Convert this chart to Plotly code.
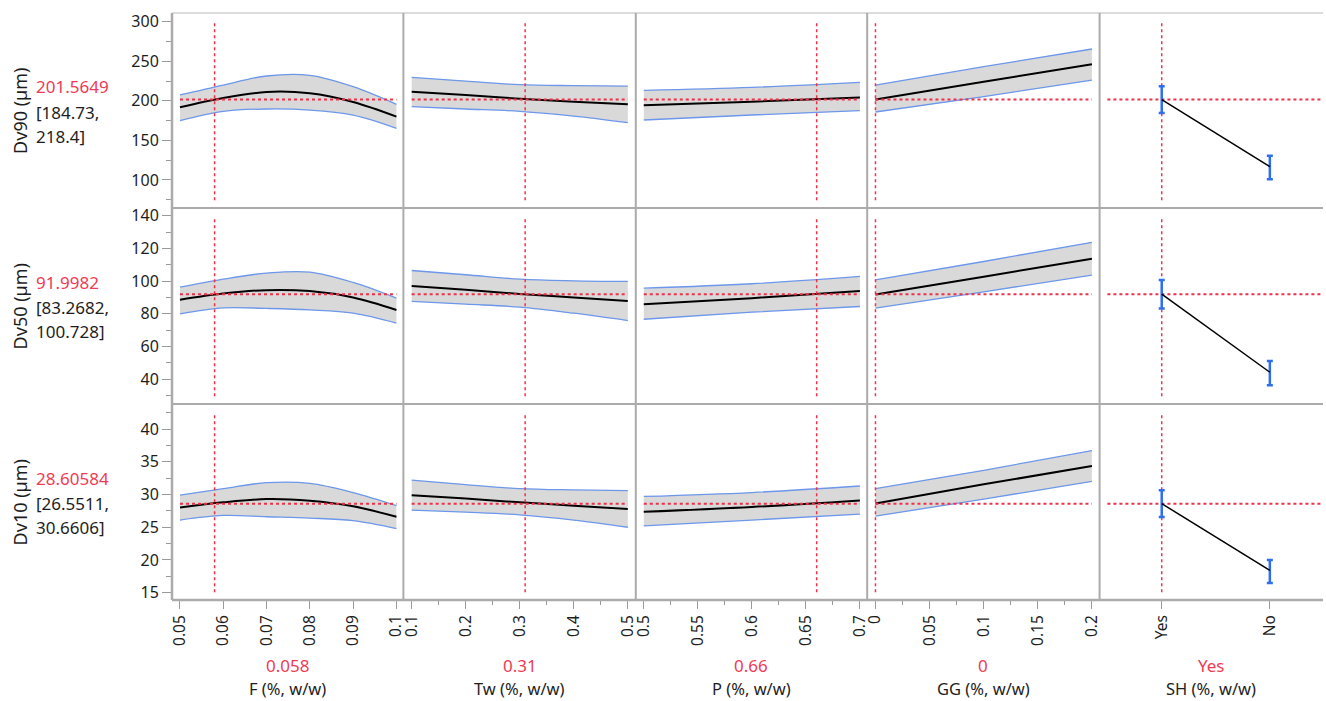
import plotly.graph_objects as go
from plotly.subplots import make_subplots

# ---------------- data ----------------
responses = ["Dv90 (µm)", "Dv50 (µm)", "Dv10 (µm)"]
resp_value_text = ["201.5649", "91.9982", "28.60584"]
resp_ci_line1 = ["[184.73,", "[83.2682,", "[26.5511,"]
resp_ci_line2 = ["218.4]", "100.728]", "30.6606]"]
resp_current = [201.5649, 91.9982, 28.60584]

factors = ["F (%, w/w)", "Tw (%, w/w)", "P (%, w/w)", "GG (%, w/w)", "SH (%, w/w)"]
factor_current_text = ["0.058", "0.31", "0.66", "0", "Yes"]
factor_current = [0.058, 0.31, 0.66, 0.0, 0]

# F profile (rows: Dv90, Dv50, Dv10)
F_x = [0.05, 0.06, 0.07, 0.08, 0.09, 0.1]
F_pred = [[191.8, 203.6, 211.2, 209.5, 198.5, 180.0],
          [88.6, 92.4, 94.5, 93.9, 90.0, 82.4],
          [28.0, 28.8, 29.3, 29.05, 28.2, 26.6]]
F_upper = [[207.4, 220.0, 231.4, 232.2, 217.9, 195.6],
           [96.3, 101.2, 104.9, 105.5, 99.2, 89.6],
           [29.9, 30.9, 31.8, 31.7, 30.3, 28.3]]
F_lower = [[175.0, 186.7, 189.7, 188.4, 182.0, 165.3],
           [80.0, 83.7, 83.3, 82.4, 80.4, 74.3],
           [26.1, 26.8, 26.6, 26.4, 26.0, 24.8]]

# Tw profile
Tw_x = [0.1, 0.2, 0.3, 0.4, 0.5]
Tw_pred = [[211.6, 207.4, 202.7, 198.9, 195.6],
           [97.1, 94.7, 92.2, 90.0, 87.8],
           [29.9, 29.4, 28.8, 28.3, 27.8]]
Tw_upper = [[229.7, 225.0, 220.4, 219.2, 218.7],
            [106.5, 103.9, 101.2, 100.2, 99.8],
            [32.2, 31.5, 30.9, 30.7, 30.6]]
Tw_lower = [[192.6, 189.7, 186.7, 180.8, 172.4],
            [87.6, 85.9, 84.1, 80.4, 75.9],
            [27.6, 27.3, 26.9, 26.1, 25.0]]

# P profile
P_x = [0.5, 0.6, 0.7]
P_pred = [[194.5, 199.0, 204.2],
          [85.9, 89.6, 93.9],
          [27.35, 28.1, 29.1]]
P_upper = [[213.3, 217.0, 223.4],
           [95.7, 98.4, 102.9],
           [29.7, 30.3, 31.3]]
P_lower = [[175.8, 182.1, 187.6],
           [76.7, 81.0, 84.5],
           [25.2, 26.1, 27.0]]

# GG profile
GG_x = [0.0, 0.1, 0.2]
GG_pred = [[201.56, 224.2, 246.1],
           [91.8, 102.7, 113.7],
           [28.61, 31.55, 34.35]]
GG_upper = [[220.0, 243.2, 265.5],
            [100.8, 112.0, 123.7],
            [30.9, 33.7, 36.7]]
GG_lower = [[185.9, 205.3, 226.3],
            [83.5, 93.5, 103.7],
            [26.7, 29.3, 32.0]]

# SH (categorical)
SH_levels = ["Yes", "No"]
SH_pred = [[201.5649, 116.8], [91.9982, 44.3], [28.60584, 18.4]]
SH_upper = [[218.4, 130.7], [100.728, 51.2], [30.6606, 20.0]]
SH_lower = [[184.73, 100.8], [83.2682, 36.3], [26.5511, 16.5]]

# axis ticks
y_tickvals = [[100, 150, 200, 250, 300],
              [40, 60, 80, 100, 120, 140],
              [15, 20, 25, 30, 35, 40]]
y_minor_dtick = [25, 10, 2.5]
y_ranges = [[64.6, 311.0], [24.9, 144.7], [13.89, 43.82]]

x_tickvals = [[0.05, 0.06, 0.07, 0.08, 0.09, 0.1],
              [0.1, 0.2, 0.3, 0.4, 0.5],
              [0.5, 0.55, 0.6, 0.65, 0.7],
              [0.0, 0.05, 0.1, 0.15, 0.2],
              [0, 1]]
x_ticktext = [["0.05", "0.06", "0.07", "0.08", "0.09", "0.1"],
              ["0.1", "0.2", "0.3", "0.4", "0.5"],
              ["0.5", "0.55", "0.6", "0.65", "0.7"],
              ["0", "0.05", "0.1", "0.15", "0.2"],
              SH_levels]
x_minor_dtick = [None, 0.05, 0.025, 0.025, None]
x_ranges = [[0.04816, 0.10161], [0.08468, 0.51477], [0.49262, 0.70674],
            [-0.00765, 0.2071], [-0.5747, 1.4917]]

# ---------------- styling ----------------
W, H = 1326, 701
ML, MR, MT, MB = 172, 0, 13, 101
PW, PH = W - ML - MR, H - MT - MB
col_w = [232, 233, 232, 233, 224]
row_h = [195, 196, 196]
FONT = "Noto Sans, Open Sans, DejaVu Sans, sans-serif"
RED = "#EE3048"
REDTXT = "#EF3B54"
BLUE = "#6C97EA"
EBLUE = "#2E6EF0"
BAND = "#D9D9D9"
SEP = "#ABABAB"
TICKC = "#9A9A9A"
TXT = "#1E1E1E"


def px_x(px):
    return (px - ML) / PW


def px_y(py):
    return (H - MB - py) / PH


fig = make_subplots(rows=3, cols=5, horizontal_spacing=0, vertical_spacing=0,
                    column_widths=col_w, row_heights=row_h)

profiles = [(F_x, F_pred, F_upper, F_lower),
            (Tw_x, Tw_pred, Tw_upper, Tw_lower),
            (P_x, P_pred, P_upper, P_lower),
            (GG_x, GG_pred, GG_upper, GG_lower)]

shapes = []
for r in range(3):
    for c in range(5):
        idx = r * 5 + c + 1
        xa = "x" if idx == 1 else f"x{idx}"
        ya = "y" if idx == 1 else f"y{idx}"
        if c < 4:
            xs, pr, up, lo = profiles[c]
            fig.add_trace(go.Scatter(x=xs, y=up[r], mode="lines",
                                     line=dict(color=BLUE, width=1.3, shape="spline"),
                                     showlegend=False, hoverinfo="skip"), row=r + 1, col=c + 1)
            fig.add_trace(go.Scatter(x=xs, y=lo[r], mode="lines", fill="tonexty",
                                     fillcolor=BAND,
                                     line=dict(color=BLUE, width=1.3, shape="spline"),
                                     showlegend=False, hoverinfo="skip"), row=r + 1, col=c + 1)
            fig.add_trace(go.Scatter(x=xs, y=pr[r], mode="lines",
                                     line=dict(color="black", width=2, shape="spline"),
                                     showlegend=False), row=r + 1, col=c + 1)
            shapes.append(dict(type="line", xref=xa, yref=ya, x0=min(xs), x1=max(xs),
                               y0=resp_current[r], y1=resp_current[r], layer="above",
                               line=dict(color=RED, width=2, dash="3px,3px")))
            shapes.append(dict(type="line", xref=xa, yref=f"{ya} domain",
                               x0=factor_current[c], x1=factor_current[c], y0=0.04, y1=0.95,
                               layer="above", line=dict(color=RED, width=1.5, dash="3px,3px")))
        else:
            up = SH_upper[r]
            lo = SH_lower[r]
            pr = SH_pred[r]
            fig.add_trace(go.Scatter(x=[0, 1], y=pr, mode="lines",
                                     line=dict(color="black", width=1.5),
                                     error_y=dict(type="data", symmetric=False,
                                                  array=[u - p for u, p in zip(up, pr)],
                                                  arrayminus=[p - l for p, l in zip(pr, lo)],
                                                  color=EBLUE, thickness=2.5, width=3),
                                     showlegend=False), row=r + 1, col=c + 1)
            shapes.append(dict(type="line", xref=f"{xa} domain", yref=ya, x0=0.035, x1=1,
                               y0=resp_current[r], y1=resp_current[r], layer="below",
                               line=dict(color=RED, width=2, dash="3px,3px")))
            shapes.append(dict(type="line", xref=xa, yref=f"{ya} domain",
                               x0=factor_current[c], x1=factor_current[c], y0=0.04, y1=0.95,
                               layer="below", line=dict(color=RED, width=1.5, dash="3px,3px")))

        # axes
        xkw = dict(range=x_ranges[c], showgrid=False, zeroline=False, showline=False,
                   tickvals=x_tickvals[c], ticktext=x_ticktext[c], tickangle=-90,
                   showticklabels=(r == 2), ticks=("outside" if r == 2 else ""),
                   ticklen=8, tickwidth=1, tickcolor=TICKC,
                   tickfont=dict(family=FONT, size=15.5, color=TXT), fixedrange=True)
        if r == 2 and x_minor_dtick[c] is not None:
            xkw["minor"] = dict(ticks="outside", ticklen=4, tickcolor=TICKC,
                                tickmode="linear", tick0=0, dtick=x_minor_dtick[c])
        fig.update_xaxes(row=r + 1, col=c + 1, **xkw)
        ykw = dict(range=y_ranges[r], showgrid=False, zeroline=False, showline=False,
                   tickvals=y_tickvals[r], showticklabels=(c == 0),
                   ticks=("outside" if c == 0 else ""), ticklen=9, tickwidth=1,
                   tickcolor=TICKC, tickfont=dict(family=FONT, size=16, color=TXT),
                   fixedrange=True)
        if c == 0:
            ykw["minor"] = dict(ticks="outside", ticklen=5, tickcolor=TICKC,
                                tickmode="linear", tick0=0, dtick=y_minor_dtick[r])
        fig.update_yaxes(row=r + 1, col=c + 1, **ykw)

# frame / separators
shapes.append(dict(type="line", xref="paper", yref="paper", x0=0, x1=1, y0=1, y1=1,
                   line=dict(color="#D0D0D0", width=1.5)))
shapes.append(dict(type="line", xref="paper", yref="paper", x0=0, x1=0, y0=0, y1=1,
                   line=dict(color=SEP, width=2.5)))
shapes.append(dict(type="line", xref="paper", yref="paper", x0=0, x1=1, y0=0, y1=0,
                   line=dict(color=SEP, width=2.5)))
acc = ML
for w in col_w[:-1]:
    acc += w
    shapes.append(dict(type="line", xref="paper", yref="paper", x0=px_x(acc), x1=px_x(acc),
                       y0=0, y1=1, line=dict(color=SEP, width=2)))
acc = MT
for h in row_h[:-1]:
    acc += h
    shapes.append(dict(type="line", xref="paper", yref="paper", x0=0, x1=1,
                       y0=px_y(acc), y1=px_y(acc), line=dict(color=SEP, width=2)))

annotations = []
# response labels
acc = MT
for r in range(3):
    cy = acc + row_h[r] / 2
    acc += row_h[r]
    annotations.append(dict(text=responses[r], textangle=-90, xref="paper", yref="paper",
                            x=px_x(20), y=px_y(cy), xanchor="center", yanchor="middle",
                            showarrow=False, font=dict(family=FONT, size=18, color=TXT)))
    for off, txt, col in [(-24, resp_value_text[r], REDTXT),
                          (1.5, resp_ci_line1[r], TXT),
                          (25.5, resp_ci_line2[r], TXT)]:
        annotations.append(dict(text=txt, xref="paper", yref="paper", x=px_x(34),
                                y=px_y(cy + off), xanchor="left", yanchor="middle",
                                showarrow=False, font=dict(family=FONT, size=17, color=col)))

# factor labels
acc = ML
for c in range(5):
    cx = acc + col_w[c] / 2
    acc += col_w[c]
    annotations.append(dict(text=factor_current_text[c], xref="paper", yref="paper",
                            x=px_x(cx), y=px_y(665), xanchor="center", yanchor="middle",
                            showarrow=False, font=dict(family=FONT, size=17, color=REDTXT)))
    annotations.append(dict(text=factors[c], xref="paper", yref="paper",
                            x=px_x(cx), y=px_y(688), xanchor="center", yanchor="middle",
                            borderpad=0, showarrow=False,
                            font=dict(family=FONT, size=16.5, color=TXT)))

fig.update_layout(width=W, height=H, margin=dict(l=ML, r=MR, t=MT, b=MB),
                  paper_bgcolor="white", plot_bgcolor="white", showlegend=False,
                  shapes=shapes, annotations=annotations,
                  font=dict(family=FONT, size=15, color=TXT))

fig.write_html("out.html", config={"displayModeBar": False})

# remove the default page margin so the figure sits at the window's origin
with open("out.html", encoding="utf-8") as fh:
    html = fh.read()
html = html.replace("<head>", "<head><style>html,body{margin:0;padding:0;overflow:hidden;}</style>", 1)
with open("out.html", "w", encoding="utf-8") as fh:
    fh.write(html)
